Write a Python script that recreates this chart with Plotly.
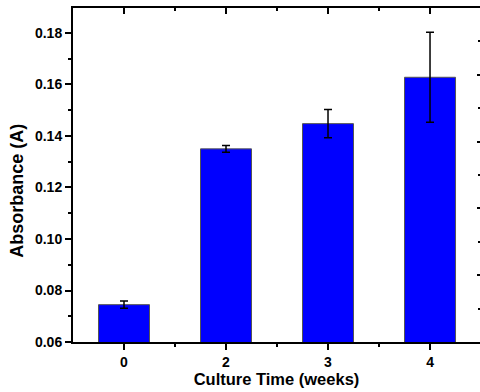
import plotly.graph_objects as go

categories = ["0", "2", "3", "4"]
absorbance = [0.0745, 0.1350, 0.1448, 0.1628]
errors = [0.0014, 0.0013, 0.0055, 0.0175]
y_ticks = [0.06, 0.08, 0.10, 0.12, 0.14, 0.16, 0.18]

xpos = list(range(len(categories)))
font_bold = "Liberation Sans, Arial, sans-serif"

fig = go.Figure()
fig.add_trace(go.Bar(
    x=xpos, y=absorbance, width=0.5,
    marker=dict(color="#0000ff", line=dict(color="#555555", width=1)),
    error_y=dict(type="data", array=errors, visible=True, color="black", thickness=1.5, width=4),
    showlegend=False,
))
# invisible trace for the overlay axes (top x axis, right y axis)
fig.add_trace(go.Scatter(x=[0], y=[0], xaxis="x2", yaxis="y2", mode="markers",
                         marker=dict(opacity=0), showlegend=False, hoverinfo="skip"))

tickfont = dict(family=font_bold, size=14, color="black", weight="bold")
titlefont = dict(family=font_bold, size=16.5, color="black", weight="bold")
xr = [-0.5, 3.49]

fig.update_layout(
    width=480, height=392,
    margin=dict(l=73, r=0, t=8, b=50),
    paper_bgcolor="white", plot_bgcolor="white",
    bargap=0.5,
    xaxis=dict(
        range=xr, tickvals=xpos, ticktext=categories, automargin=False,
        showline=True, linewidth=2, linecolor="black", mirror=False,
        ticks="outside", ticklen=6, tickwidth=2, tickcolor="black",
        minor=dict(tickvals=[0.5, 1.5, 2.5], ticks="outside", ticklen=3, tickwidth=2, tickcolor="black"),
        showgrid=False, zeroline=False, tickfont=tickfont,
        title=dict(text="Culture Time (weeks)", font=titlefont, standoff=2),
    ),
    yaxis=dict(
        range=[0.06, 0.1897], tickvals=y_ticks, tickformat=".2f", automargin=False,
        showline=True, linewidth=2, linecolor="black", mirror=False,
        ticks="outside", ticklen=6, tickwidth=2, tickcolor="black",
        minor=dict(tickvals=[0.07, 0.09, 0.11, 0.13, 0.15, 0.17], ticks="outside", ticklen=3, tickwidth=2, tickcolor="black"),
        showgrid=False, zeroline=False, tickfont=tickfont,
    ),
    xaxis2=dict(
        overlaying="x", side="top", range=xr, tickvals=xpos, showticklabels=False, automargin=False,
        showline=True, linewidth=2, linecolor="black",
        ticks="inside", ticklen=6, tickwidth=2, tickcolor="black",
        minor=dict(tickvals=[0.5, 1.5, 2.5], ticks="inside", ticklen=3, tickwidth=2, tickcolor="black"),
        showgrid=False, zeroline=False,
    ),
    yaxis2=dict(
        overlaying="y", side="right", range=[0, 5], tickvals=[0, 1, 2, 3, 4, 5], showticklabels=False,
        automargin=False,
        showline=False, ticks="inside", ticklen=3, tickwidth=2, tickcolor="black",
        minor=dict(tickvals=[0.5, 1.5, 2.5, 3.5, 4.5], ticks="inside", ticklen=2, tickwidth=2, tickcolor="black"),
        showgrid=False, zeroline=False,
    ),
    annotations=[dict(
        text="Absorbance (A)", textangle=-90, showarrow=False,
        xref="paper", yref="paper", x=-0.138, y=0.452,
        xanchor="center", yanchor="middle",
        font=dict(family=font_bold, size=18, color="black", weight="bold"),
    )],
)

fig.write_html(
    "out.html",
    config={"displayModeBar": False},
    post_script="document.documentElement.style.overflow='hidden';"
                "document.body.style.margin='0';document.body.style.overflow='hidden';",
)
